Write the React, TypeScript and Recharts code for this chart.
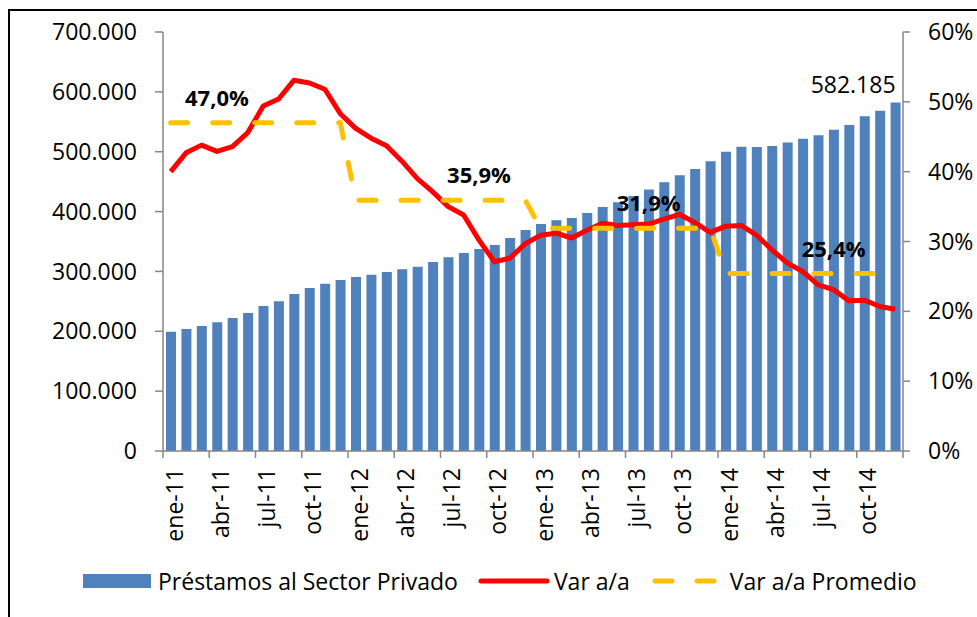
import React from "react";
import {
  ComposedChart,
  Bar,
  Line,
  XAxis,
  YAxis,
  Legend,
  LabelList,
} from "recharts";

const months = ["ene", "feb", "mar", "abr", "may", "jun", "jul", "ago", "sep", "oct", "nov", "dic"];
const years = ["11", "12", "13", "14"];
const categories = years.flatMap((y) => months.map((m) => `${m}-${y}`));

// Préstamos al Sector Privado (miles)
const prestamos = [
  199300, 203800, 208800, 215000, 222200, 230500, 242200, 250000, 262300, 272300, 279500, 285700,
  290700, 294500, 299000, 303500, 307900, 315700, 323600, 330800, 337500, 344100, 355800, 369200,
  379200, 385300, 389200, 397600, 407600, 415400, 426000, 437000, 448800, 460500, 471100, 483900,
  500000, 508400, 507900, 509500, 515600, 521800, 527300, 536800, 544600, 559100, 568500, 582185,
];

// Var a/a (%)
const varAa = [
  40.0, 42.7, 43.8, 42.9, 43.6, 45.6, 49.4, 50.4, 53.1, 52.7, 51.8, 48.3,
  46.2, 44.8, 43.7, 41.5, 39.0, 37.1, 35.0, 33.8, 30.2, 27.1, 27.6, 29.7,
  30.9, 31.2, 30.5, 31.6, 32.6, 32.3, 32.4, 32.5, 33.2, 33.9, 32.7, 31.3,
  32.2, 32.3, 30.9, 28.8, 26.9, 25.7, 23.8, 23.1, 21.5, 21.6, 20.7, 20.3,
];

// Var a/a Promedio por año
const promedioAnual = [47.0, 35.9, 31.9, 25.4];
const promedioLabelIdx = [3, 20, 31, 43];

const leftTicks = [0, 100000, 200000, 300000, 400000, 500000, 600000, 700000];
const rightTicks = [0, 10, 20, 30, 40, 50, 60];

const data = categories.map((mes, i) => ({
  mes,
  prestamos: prestamos[i],
  var: varAa[i],
  prom: promedioAnual[Math.floor(i / 12)],
}));

const FONT = '"Open Sans", sans-serif';
const AXIS = "#868686";
const BLUE = "#4F81BD";
const RED = "#FF0000";
const GOLD = "#FFC000";

const miles = (v: number) => String(v).replace(/\B(?=(\d{3})+(?!\d))/g, ".");
const pctComa = (v: number) => v.toFixed(1).replace(".", ",") + "%";

function MonthTick(props: any) {
  const { x, y, payload, index } = props;
  const off = payload?.offset ?? 0;
  const show = index % 3 === 0;
  const last = index === categories.length - 1;
  return (
    <g>
      {show && <line x1={x - off} x2={x - off} y1={y} y2={y + 7} stroke={AXIS} strokeWidth={1.5} />}
      {last && <line x1={x + off} x2={x + off} y1={y} y2={y + 7} stroke={AXIS} strokeWidth={1.5} />}
      {show && (
        <text
          transform={`translate(${x + 3},${y + 17}) rotate(-90)`}
          textAnchor="end"
          dominantBaseline="central"
          fontSize={23}
          fontFamily={FONT}
          fill="#000"
        >
          {payload.value}
        </text>
      )}
    </g>
  );
}

function PromLabel(props: any) {
  const { x, y, value, index } = props;
  if (!promedioLabelIdx.includes(index)) return null;
  return (
    <text
      x={x}
      y={y - 26}
      textAnchor="middle"
      dominantBaseline="central"
      fontSize={22}
      fontWeight="bold"
      fontFamily={FONT}
      fill="#000"
    >
      {pctComa(value)}
    </text>
  );
}

function LastBarLabel(props: any) {
  const { x, y, width, value, index } = props;
  if (index !== prestamos.length - 1) return null;
  return (
    <text
      x={x + width / 2}
      y={y - 19}
      textAnchor="end"
      dominantBaseline="central"
      fontSize={23}
      fontFamily={FONT}
      fill="#000"
    >
      {miles(value)}
    </text>
  );
}

function ChartLegend() {
  const txt = { fontSize: 23, fontFamily: FONT, color: "#000", whiteSpace: "nowrap" as const };
  return (
    <div style={{ display: "flex", alignItems: "center", height: 40, paddingLeft: 83 }}>
      <span style={{ width: 68, height: 14, background: BLUE, display: "inline-block" }} />
      <span style={{ ...txt, marginLeft: 7 }}>Préstamos al Sector Privado</span>
      <svg width={72} height={10} style={{ marginLeft: 20 }}>
        <line x1={3} x2={69} y1={5} y2={5} stroke={RED} strokeWidth={5} strokeLinecap="round" />
      </svg>
      <span style={{ ...txt, marginLeft: 4 }}>Var a/a</span>
      <svg width={66} height={10} style={{ marginLeft: 22 }}>
        <line x1={3} x2={63} y1={5} y2={5} stroke={GOLD} strokeWidth={5} strokeLinecap="round" strokeDasharray="17 25" />
      </svg>
      <span style={{ ...txt, marginLeft: 12 }}>Var a/a Promedio</span>
    </div>
  );
}

export default function App() {
  return (
    <div
      style={{
        position: "fixed",
        left: 0,
        top: 0,
        width: 977,
        height: 617,
        overflow: "hidden",
        background: "#fff",
      }}
    >
      <div
        style={{
          position: "absolute",
          left: 8,
          top: 9,
          width: 1000,
          height: 700,
          border: "2px solid #000",
        }}
      />
      <div style={{ position: "absolute", left: 0, top: 0 }}>
        <ComposedChart
          width={977}
          height={617}
          data={data}
          margin={{ top: 32, right: 0, bottom: 16, left: 0 }}
        >
          <XAxis
            dataKey="mes"
            interval={0}
            tickSize={0}
            tickMargin={0}
            tickLine={false}
            tick={<MonthTick />}
            height={110}
            axisLine={{ stroke: AXIS, strokeWidth: 1.5 }}
          />
          <YAxis
            yAxisId="left"
            width={163}
            domain={[0, 700000]}
            ticks={leftTicks}
            tickFormatter={miles}
            tickSize={8}
            tickMargin={18}
            axisLine={{ stroke: AXIS, strokeWidth: 1.5 }}
            tickLine={{ stroke: AXIS, strokeWidth: 1.5 }}
            tick={{ fontSize: 23, fontFamily: FONT, fill: "#000" }}
          />
          <YAxis
            yAxisId="right"
            orientation="right"
            width={74}
            domain={[0, 60]}
            ticks={rightTicks}
            tickFormatter={(v: number) => `${v}%`}
            tickSize={7}
            tickMargin={18}
            axisLine={{ stroke: AXIS, strokeWidth: 1.5 }}
            tickLine={{ stroke: AXIS, strokeWidth: 1.5 }}
            tick={{ fontSize: 23, fontFamily: FONT, fill: "#000", textAnchor: "start" }}
          />
          <Legend verticalAlign="bottom" height={40} content={() => <ChartLegend />} />
          <Bar
            yAxisId="left"
            dataKey="prestamos"
            name="Préstamos al Sector Privado"
            fill={BLUE}
            barSize={10}
            isAnimationActive={false}
          >
            <LabelList dataKey="prestamos" content={<LastBarLabel />} />
          </Bar>
          <Line
            yAxisId="right"
            dataKey="var"
            name="Var a/a"
            type="linear"
            stroke={RED}
            strokeWidth={5}
            strokeLinejoin="round"
            dot={false}
            activeDot={false}
            isAnimationActive={false}
          />
          <Line
            yAxisId="right"
            dataKey="prom"
            name="Var a/a Promedio"
            type="linear"
            stroke={GOLD}
            strokeWidth={5}
            strokeDasharray="17 25"
            strokeLinecap="round"
            dot={false}
            activeDot={false}
            isAnimationActive={false}
          >
            <LabelList dataKey="prom" content={<PromLabel />} />
          </Line>
        </ComposedChart>
      </div>
    </div>
  );
}
